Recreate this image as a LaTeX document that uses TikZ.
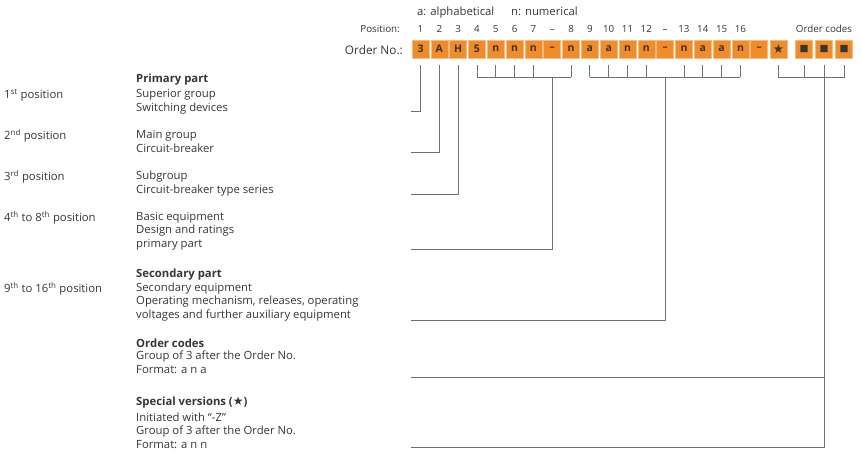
\documentclass[tikz,border=0pt]{standalone}
\usepackage{fontspec}
\setmainfont{Open Sans}
\newfontfamily\symfont{DejaVu Sans}
\usetikzlibrary{positioning}
\definecolor{sorange}{HTML}{F28C28}
\definecolor{txtgray}{HTML}{363636}
\definecolor{linegray}{HTML}{707070}
\tikzset{
  cell/.style={fill=sorange,draw=sorange!60!white,line width=0.6pt,minimum width=17pt,
    minimum height=18pt,inner sep=0pt,text=txtgray,font=\fontsize{10.5}{10.5}\selectfont\bfseries},
  num/.style={anchor=base,inner sep=0pt,text=txtgray,font=\fontsize{9.8}{10}\selectfont},
  txt/.style={anchor=base west,inner sep=0pt,align=left,text=txtgray,
    font=\fontsize{11.3}{13.3}\selectfont},
  hd/.style={txt,font=\fontsize{11.3}{13.3}\selectfont\bfseries},
  brk/.style={linegray,line width=0.9pt},
  lead/.style={brk,line cap=rect}
}
\begin{document}
\begin{tikzpicture}[x=1pt,y=-1pt]
\useasboundingbox (0,0) rectangle (861,459);

% legend and row heads
\node[txt] (alpha) at (417,15) {a: alphabetical};
\node[txt] (numer) at (511,15) {n: numerical};
\node[num,anchor=base east] (poshd) at (400,32) {Position:};
\node[txt,anchor=base east,font=\fontsize{11.8}{12}\selectfont] (ordhd) at (403,54) {Order No.:};

% order number cells
\foreach \i/\c in {1/3,2/A,3/H,4/5,5/n,6/n,7/n,8/--,9/n,10/a,11/a,12/n,13/n,14/--,15/n,16/a,17/a,18/n,19/--}
  \node[cell] (b\i) at (420.5+18.82*\i-18.82,49) {\c};
\node[cell] (b20) at (778.5,49) {\symfont\fontsize{12.5}{10}\selectfont ★};
\foreach \i/\x in {1/804,2/824,3/844}
  \node[cell] (c\i) at (\x,49) {\symfont\fontsize{9.5}{9}\selectfont ■};

% position numbers
\foreach \i/\t in {1/1,2/2,3/3,4/4,5/5,6/6,7/7,8/--,9/8,10/9,11/10,12/11,13/12,14/--,15/13,16/14,17/15,18/16}
  \node[num] (p\i) at (b\i |- 0,32) {\t};
\node[num] (codehd) at (c2 |- 0,32) {Order codes};

% descriptions, left column
\node[txt] (l1) at (4,98) {1\textsuperscript{st} position};
\node[txt] (l2) at (4,139) {2\textsuperscript{nd} position};
\node[txt] (l3) at (4,180) {3\textsuperscript{rd} position};
\node[txt] (l4) at (4,221) {4\textsuperscript{th} to 8\textsuperscript{th} position};
\node[txt] (l5) at (4,292) {9\textsuperscript{th} to 16\textsuperscript{th} position};

% descriptions, right column (multi-line nodes sit on their last baseline)
\node[hd] (h1) at (136,82) {Primary part};
\node[txt] (d1) at (136,111) {Superior group\\Switching devices};
\node[txt] (d2) at (136,152) {Main group\\Circuit-breaker};
\node[txt] (d3) at (136,193) {Subgroup\\Circuit-breaker type series};
\node[txt] (d4) at (136,247) {Basic equipment\\Design and ratings\\primary part};
\node[hd] (h2) at (136,277) {Secondary part};
\node[txt] (d5) at (136,318) {Secondary equipment\\Operating mechanism, releases, operating\\voltages and further auxiliary equipment};
\node[hd] (h3) at (136,347) {Order codes};
\node[txt] (d6) at (136,373) {Group of 3 after the Order No.\\Format: a n a};
\node[hd] (h4) at (136,405) {Special versions ({\symfont\fontsize{12}{9}\selectfont ★})};
\node[txt] (d7) at (136,448) {Initiated with “-Z”\\Group of 3 after the Order No.\\Format: a n n};

% free ends of the leaders
\coordinate (e1) at (411,111);
\coordinate (e2) at (411,152);
\coordinate (e3) at (411,194);
\coordinate (e4) at (411,249);
\coordinate (e5) at (411,320);
\coordinate (e6) at (411,377);
\coordinate (e7) at (411,447);

% single positions
\draw[lead] (b1 |- 0,65) |- (e1);
\draw[lead] (b2 |- 0,65) |- (e2);
\draw[lead] (b3 |- 0,65) |- (e3);

% brackets
\foreach \i in {4,5,6,7,9} \draw[brk] (b\i |- 0,65) -- (b\i |- 0,77);
\draw[brk] (b4 |- 0,77) -- (b9 |- 0,77);
\draw[lead] (b8 |- 0,77) |- (e4);
\foreach \i in {10,11,12,13,15,16,17,18} \draw[brk] (b\i |- 0,65) -- (b\i |- 0,77);
\draw[brk] (b10 |- 0,77) -- (b18 |- 0,77);
\draw[lead] (b14 |- 0,77) |- (e5);
\draw[brk] (b20 |- 0,65) -- (b20 |- 0,77) -- (c3 |- 0,77) -- (c3 |- 0,65);
\draw[brk] (c1 |- 0,65) -- (c1 |- 0,77);
\draw[lead] (c2 |- 0,65) |- (e7);
\draw[lead] (c2 |- e6) -- (e6);
\end{tikzpicture}
\end{document}
